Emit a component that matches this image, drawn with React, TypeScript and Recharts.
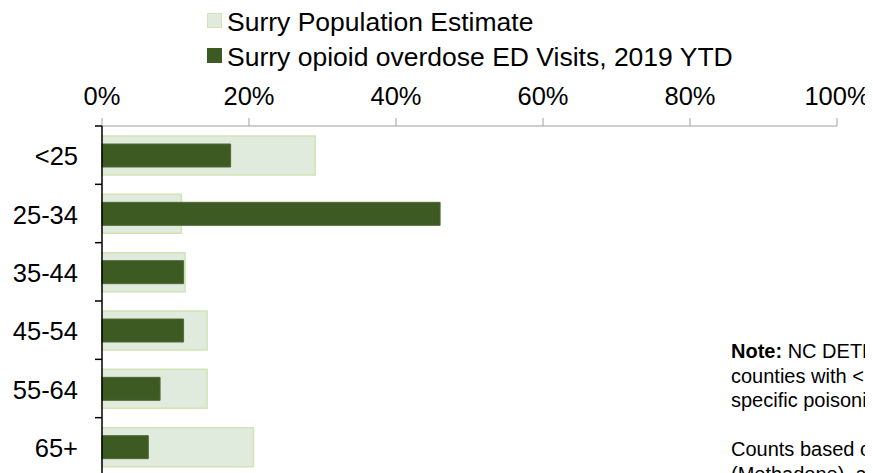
import React from 'react';
import { BarChart, Bar, XAxis, YAxis } from 'recharts';

const ageGroups = ['<25', '25-34', '35-44', '45-54', '55-64', '65+'];
const populationShare = [0.29, 0.108, 0.113, 0.143, 0.143, 0.206];
const edVisitShare = [0.175, 0.46, 0.111, 0.111, 0.079, 0.063];
const pctTicks = [0, 0.2, 0.4, 0.6, 0.8, 1];

const seriesNames = ['Surry Population Estimate', 'Surry opioid overdose ED Visits, 2019 YTD'];

const noteLines = [
  'NC DETECT ED visit counts are suppressed for',
  'counties with <10 visits and for age groups with',
  'specific poisoning counts below reporting limits.',
];
const countLines = [
  'Counts based on ICD-10-CM codes for opioids, other opioids',
  '(Methadone), and other synthetic narcotics.',
];

const data = ageGroups.map((age, i) => ({
  age,
  pop: populationShare[i],
  ed: edVisitShare[i],
}));

const FONT = '"Liberation Sans", Arial, sans-serif';
const LIGHT_FILL = '#e1ebdd';
const LIGHT_STROKE = '#d2e4b4';
const DARK_FILL = '#3e5a23';

const BAND_HALF = 350 / ageGroups.length / 2;

// tick x arrives as axis x - 8 (tickSize 6 + tickMargin 2)
const AgeTick = (props: any) => {
  const { x, y, payload } = props;
  return (
    <g>
      <line x1={x + 1} x2={x + 8} y1={y - BAND_HALF} y2={y - BAND_HALF} stroke="#000" strokeWidth={1.5} />
      <text x={x - 16} y={y} dy="0.4em" textAnchor="end" fontSize={25.5} fontFamily={FONT} fill="#000">
        {payload.value}
      </text>
    </g>
  );
};

const LegendRow = ({ color, stroke, label }: { color: string; stroke: string; label: string }) => (
  <div style={{ position: 'relative', height: 35, paddingLeft: 20 }}>
    <span
      style={{
        position: 'absolute',
        left: 0,
        top: 5,
        width: 13,
        height: 13,
        background: color,
        border: `1px solid ${stroke}`,
      }}
    />
    {label}
  </div>
);

export default function App() {
  return (
    <div style={{ position: 'relative', width: 865, height: 465, overflow: 'hidden', fontFamily: FONT, background: '#fff' }}>
      <div style={{ position: 'absolute', left: 199, top: 0, fontSize: 26.5, lineHeight: '28px', color: '#000', whiteSpace: 'nowrap' }}>
        <LegendRow color={LIGHT_FILL} stroke={LIGHT_STROKE} label={seriesNames[0]} />
        <LegendRow color={DARK_FILL} stroke={DARK_FILL} label={seriesNames[1]} />
      </div>

      <BarChart
        layout="vertical"
        width={865}
        height={480}
        data={data}
        margin={{ top: 78, right: 36, bottom: 12, left: 0 }}
        barCategoryGap={0}
      >
        <XAxis
          type="number"
          orientation="top"
          domain={[0, 1]}
          ticks={pctTicks}
          tickFormatter={(v: number) => `${Math.round(v * 100)}%`}
          height={40}
          stroke="#a0a0a0"
          tickSize={8}
          tickMargin={13}
          tick={{ fontSize: 25.5, fontFamily: FONT, fill: '#000' }}
          interval={0}
        />
        <YAxis
          yAxisId="pop"
          type="category"
          dataKey="age"
          width={94}
          axisLine={{ stroke: '#000', strokeWidth: 1.5 }}
          tickLine={false}
          tick={<AgeTick />}
          interval={0}
        />
        <YAxis yAxisId="ed" type="category" dataKey="age" orientation="right" width={0} hide />
        <Bar
          yAxisId="pop"
          dataKey="pop"
          name={seriesNames[0]}
          barSize={39}
          fill={LIGHT_FILL}
          stroke={LIGHT_STROKE}
          strokeWidth={1.5}
          isAnimationActive={false}
        />
        <Bar
          yAxisId="ed"
          dataKey="ed"
          name={seriesNames[1]}
          barSize={23}
          fill={DARK_FILL}
          stroke="#4f6a36"
          strokeWidth={1}
          isAnimationActive={false}
        />
      </BarChart>

      <div style={{ position: 'absolute', left: 723, top: 331, fontSize: 20, lineHeight: '24.5px', color: '#000', whiteSpace: 'nowrap' }}>
        <div>
          <b>Note:</b> {noteLines[0]}
        </div>
        <div>{noteLines[1]}</div>
        <div>{noteLines[2]}</div>
        <div>&nbsp;</div>
        <div>{countLines[0]}</div>
        <div>{countLines[1]}</div>
      </div>
    </div>
  );
}
